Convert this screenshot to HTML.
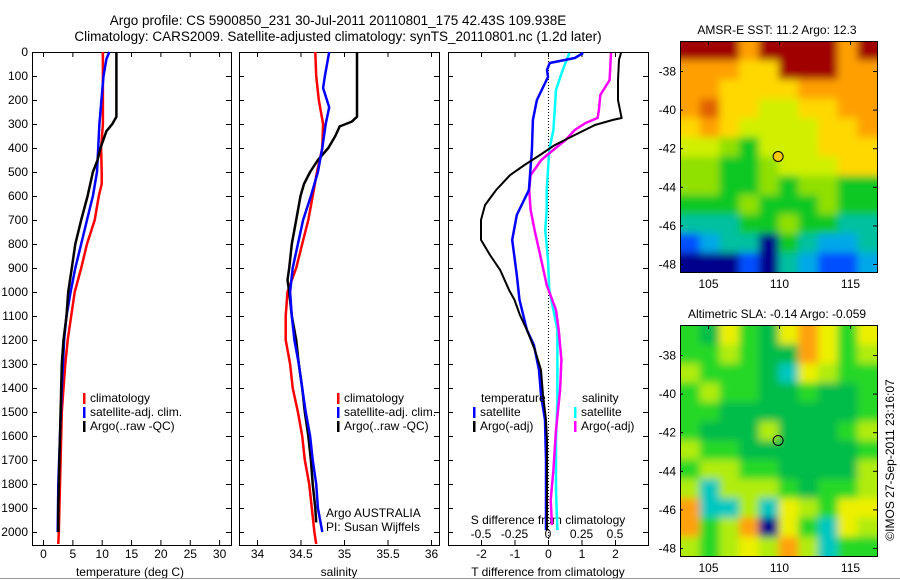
<!DOCTYPE html>
<html><head><meta charset="utf-8"><style>
html,body{margin:0;padding:0;background:#fff}
svg{display:block;font-family:"Liberation Sans",sans-serif}
</style></head><body>
<svg id="fig" width="900" height="580" viewBox="0 0 900 580" xmlns="http://www.w3.org/2000/svg">
<defs>
<filter id="soft" x="-5%" y="-5%" width="110%" height="110%"><feGaussianBlur stdDeviation="4"/></filter>
<clipPath id="clip1"><rect x="680" y="41" width="197" height="231"/></clipPath>
<clipPath id="clip2"><rect x="680" y="325" width="197" height="231"/></clipPath>
</defs>
<text x="338" y="25" font-size="13.5" text-anchor="middle">Argo profile: CS 5900850_231 30-Jul-2011 20110801_175 42.43S 109.938E</text>
<text x="338" y="41" font-size="13.5" text-anchor="middle">Climatology: CARS2009. Satellite-adjusted climatology: synTS_20110801.nc (1.2d later)</text>
<g id="g1"></g>
<g id="g2"></g>
<g id="g3"></g>
<g id="m1"></g>
<g id="m2"></g>
<text transform="translate(894,460) rotate(-90)" font-size="12" text-anchor="middle">©IMOS 27-Sep-2011 23:16:07</text>
<line x1="0" y1="578.5" x2="900" y2="578.5" stroke="#999"/>
</svg>
<script>
// ---- data ----
const tDepth = [0,100,300,400,500,550,600,700,800,900,1000,1100,1200,1300,1400,1500,1600,1800,2000,2050];
const tClim  = [10.2,10.2,10.2,9.9,10,10,9.5,8.8,7.5,6.5,5.4,4.8,4.2,3.8,3.5,3.2,3.1,2.9,2.7,2.6];
const tSatDepth = [0,30,100,300,400,500,600,700,800,900,1000,1100,1200,1400,1600,1800,2000];
const tSat  = [11.3,10.8,10.3,9.6,9.4,9.2,8.5,7.5,6.5,5.5,4.7,4.0,3.6,3.2,2.9,2.6,2.5];
const tArgoDepth = [0,270,300,330,400,450,500,600,700,800,900,1000,1100,1200,1300,1500,1700,1900,2000];
const tArgo = [12.5,12.5,11.8,10.8,9.8,9.3,8.5,7.6,6.5,5.5,4.9,4.3,4.0,3.5,3.2,3.0,2.8,2.6,2.6];

const sDepth = [0,100,200,300,400,500,600,700,800,900,1000,1100,1200,1300,1400,1500,1600,1700,1800,1900,2000,2050];
const sClim = [34.67,34.68,34.71,34.76,34.75,34.69,34.64,34.59,34.52,34.45,34.35,34.33,34.33,34.38,34.41,34.47,34.52,34.55,34.6,34.63,34.66,34.68];
const sSatDepth = [0,100,150,230,300,400,500,600,700,800,900,1000,1100,1200,1300,1400,1500,1600,1700,1800,1900,2000];
const sSat = [34.83,34.78,34.76,34.83,34.79,34.75,34.70,34.62,34.53,34.47,34.41,34.38,34.4,34.43,34.48,34.52,34.56,34.61,34.64,34.68,34.70,34.75];
const sArgoDepth = [0,270,290,310,350,400,450,500,550,600,700,800,900,950,1000,1100,1200,1300,1400,1500,1600,1700,1800,1900,1960];
const sArgo = [35.15,35.15,35.09,34.95,34.9,34.82,34.7,34.61,34.54,34.5,34.45,34.4,34.37,34.35,34.37,34.4,34.45,34.48,34.52,34.55,34.59,34.62,34.64,34.67,34.68];

const dTSatDepth = [4,25,46,75,104,200,283,408,575,679,783,929,1033,1158,1221,1325,1429,1533,1700,1992];
const dTSat = [1.05,0.8,0.05,-0.03,0,-0.33,-0.45,-0.48,-0.57,-0.93,-1.07,-0.93,-0.85,-0.63,-0.42,-0.27,-0.21,-0.09,-0.06,-0.06];
const dTArgoDepth = [4,33,117,200,263,275,283,304,346,388,429,471,513,575,638,700,783,846,908,992,1033,1096,1158,1242,1325,1429,1533,1617,1992];
const dTArgo = [2.18,2.12,2.09,2.09,2.18,2.2,1.94,1.4,0.8,0.2,-0.24,-0.7,-1.13,-1.55,-1.88,-2.0,-2.0,-1.73,-1.43,-1.16,-1.0,-0.84,-0.63,-0.39,-0.21,-0.15,-0.06,-0.03,-0.03];
const dSSatDepth = [4,75,158,242,325,408,492,575,658,742,867,992,1075,1158,1283,1450,1617,1825,1992];
const dSSat = [0.16,0.11,0.06,0.05,0.04,0.01,0,-0.01,-0.01,-0.02,0,0.01,0.04,0.07,0.07,0.07,0.06,0.06,0.07];
const dSArgoDepth = [4,117,179,242,275,296,325,367,408,450,513,575,658,742,867,971,1075,1158,1283,1408,1575,1742,1867,1971];
const dSArgo = [0.47,0.46,0.39,0.38,0.37,0.28,0.2,0.13,0.04,-0.05,-0.13,-0.14,-0.13,-0.1,-0.05,-0.01,0.06,0.08,0.1,0.09,0.06,0.04,0.02,0.03];

const tempTicks = [0,5,10,15,20,25,30];
const salTicks = [34,34.5,35,35.5,36];
const tdTicks = [-2,-1,0,1,2];
const sdTicks = [-0.5,-0.25,0,0.25,0.5];
const depthTicks = [0,100,200,300,400,500,600,700,800,900,1000,1100,1200,1300,1400,1500,1600,1700,1800,1900,2000];
const lonTicks = [105,110,115];
const latTicks = [-38,-40,-42,-44,-46,-48];

const sstGrid = ["RRR8RRRR8R","88877RRR88","8877778888","8977667788","7876666778","6654666777","5544566677","5544545544","4445444544","3334454433","1233043223","0001032112"];
const slaGrid = ["gGYgGYOYgY","ggygGGOYgy","ygggGcYygg","gyggGGgGGg","ggGGGGGGGg","gGGGyGGGgy","yggGGGGGGg","gyyggGGGGy","ycyyygGggy","OccycYygYY","OgyOBYgcYy","ygyYyOycgg"];

// ---- helpers ----
const NS="http://www.w3.org/2000/svg";
function mk(parent,tag,attrs){const e=document.createElementNS(NS,tag);for(const k in attrs)e.setAttribute(k,attrs[k]);parent.appendChild(e);return e;}
const PT=52, PB=545;
const yD = d => 52 + d*0.24;
const xT = v => 43 + v*5.87;
const xS = v => 257 + (v-34)*87;
const xTD = v => 548 + v*33.5;
const xSD = v => 548 + v*134;

function frame(g,x0,x1,name){
  const r=mk(g,'rect',{x:x0+0.5,y:PT+0.5,width:x1-x0,height:PB-PT,fill:'none',stroke:'#000'});
  
  
  depthTicks.forEach(d=>{
    const y=yD(d)+0.5;
    mk(g,'line',{x1:x0,y1:y,x2:x0+5,y2:y,stroke:'#000'});
    mk(g,'line',{x1:x1-5,y1:y,x2:x1,y2:y,stroke:'#000'});
  });
}
function xticks(g,vals,fx,labels,ly){
  vals.forEach((v,i)=>{
    const x=fx(v)+0.5;
    mk(g,'line',{x1:x,y1:PT,x2:x,y2:PT+5,stroke:'#000'});
    mk(g,'line',{x1:x,y1:PB-5,x2:x,y2:PB,stroke:'#000'});
    if(labels){const t=mk(g,'text',{x:x,y:ly,'font-size':12,'text-anchor':'middle'});t.textContent=labels[i];
      
      }
  });
}
function line(g,ds,vs,fx,color,w,name){
  const pts=ds.map((d,i)=>fx(vs[i]).toFixed(1)+','+yD(d).toFixed(1)).join(' ');
  const p=mk(g,'polyline',{points:pts,fill:'none',stroke:color,'stroke-width':w,'stroke-linejoin':'round'});
  
  
}
function legend(g,x,y,color,label){
  mk(g,'rect',{x:x,y:y-9,width:2.5,height:11,fill:color});
  const t=mk(g,'text',{x:x+7,y:y,'font-size':12});t.textContent=label;
  
  
}
function txt(g,x,y,s,anchor,name,size){
  const t=mk(g,'text',{x:x,y:y,'font-size':size||12,'text-anchor':anchor||'start'});t.textContent=s;
  
  
  return t;
}

// ---- panel 1 ----
const g1=document.getElementById('g1');
frame(g1,32,231,'temperature-panel');
depthTicks.forEach(d=>{const t=txt(g1,28,yD(d)+4,String(d),'end','y-tick-label');});
xticks(g1,tempTicks,xT,tempTicks.map(String),558);
txt(g1,130,576,'temperature (deg C)','middle','x-axis-title');
line(g1,tDepth,tClim,xT,'#f00',2.5,'temp-climatology-line');
line(g1,tSatDepth,tSat,xT,'#00f',2.5,'temp-satellite-line');
line(g1,tArgoDepth,tArgo,xT,'#000',2.5,'temp-argo-line');
legend(g1,83,402,'#f00','climatology');
legend(g1,83,416,'#00f','satellite-adj. clim.');
legend(g1,83,430,'#000','Argo(..raw -QC)');

// ---- panel 2 ----
const g2=document.getElementById('g2');
frame(g2,239,439,'salinity-panel');
xticks(g2,salTicks,xS,salTicks.map(String),558);
txt(g2,339,576,'salinity','middle','x-axis-title');
line(g2,sDepth,sClim,xS,'#f00',2.5,'sal-climatology-line');
line(g2,sArgoDepth,sArgo,xS,'#000',2.5,'sal-argo-line');
line(g2,sSatDepth,sSat,xS,'#00f',2.5,'sal-satellite-line');
legend(g2,337,402,'#f00','climatology');
legend(g2,337,416,'#00f','satellite-adj. clim.');
legend(g2,337,430,'#000','Argo(..raw -QC)');
txt(g2,326,517,'Argo AUSTRALIA','start','argo-credit');
txt(g2,326,531,'PI: Susan Wijffels','start','pi-credit');

// ---- panel 3 ----
const g3=document.getElementById('g3');
frame(g3,448,648,'difference-panel');
mk(g3,'line',{x1:548.5,y1:PT,x2:548.5,y2:PB,stroke:'#000','stroke-dasharray':'1,2'});
xticks(g3,tdTicks,xTD,tdTicks.map(String),558);
txt(g3,548,576,'T difference from climatology','middle','x-axis-title');
txt(g3,548,524,'S difference from climatology','middle','s-axis-title');
sdTicks.forEach(v=>txt(g3,xSD(v),538,String(v),'middle','s-tick-label'));
line(g3,dSSatDepth,dSSat,xSD,'#0ff',2.5,'sal-satellite-diff-line');
line(g3,dSArgoDepth,dSArgo,xSD,'#f0f',2.5,'sal-argo-diff-line');
line(g3,dTSatDepth,dTSat,xTD,'#00f',2.5,'temp-satellite-diff-line');
line(g3,dTArgoDepth,dTArgo,xTD,'#000',2,'temp-argo-diff-line');
txt(g3,481,402,'temperature','start','legend-title');
legend(g3,473,416,'#00f','satellite');
legend(g3,473,430,'#000','Argo(-adj)');
txt(g3,582,402,'salinity','start','legend-title');
legend(g3,574,416,'#0ff','satellite');
legend(g3,574,430,'#f0f','Argo(-adj)');

// ---- maps ----
const sstCol={R:'#a00000','9':'#e06000','8':'#ffa000','7':'#ffd800','6':'#d0f000','5':'#90e000','4':'#10c820','3':'#00c0a0','2':'#00a8e8','1':'#0050ff','0':'#00008c'};
const slaCol={g:'#28d828',G:'#00bc48',y:'#b0ec10',Y:'#ecf000',O:'#ffa010',c:'#00c8c0',b:'#0060ff',B:'#00008c'};
const lonX = v => 708 + (v-105)*14.2;
function drawMap(id,top,grid,cols,title,circleFill,name,clip){
  const g=document.getElementById(id);
  const x0=680,x1=877,y0=top,y1=top+231;
  const nr=grid.length,nc=grid[0].length,cw=(x1-x0)/nc,ch=(y1-y0)/nr;
  const cg=mk(g,'g',{'clip-path':'url(#'+clip+')'});
  const bg=mk(cg,'g',{filter:'url(#soft)'});
  grid.forEach((row,r)=>{for(let c=0;c<nc;c++){
    let x=x0+c*cw, y=y0+r*ch, w=cw+0.6, h=ch+0.6;
    if(c===0){x-=12;w+=12;} if(c===nc-1){w+=12;}
    if(r===0){y-=12;h+=12;} if(r===nr-1){h+=12;}
    mk(bg,'rect',{x:x.toFixed(2),y:y.toFixed(2),width:w.toFixed(2),height:h.toFixed(2),fill:cols[row[c]]});
  }});
  const fr=mk(g,'rect',{x:x0+0.5,y:y0+0.5,width:x1-x0,height:y1-y0,fill:'none',stroke:'#000'});
  
  
  const latY = v => top + 30 + (-38 - v)*19.3;
  latTicks.forEach(v=>{const y=latY(v)+0.5;
    mk(g,'line',{x1:x1-4,y1:y,x2:x1,y2:y,stroke:'#000'});
    mk(g,'line',{x1:x0,y1:y,x2:x0+3,y2:y,stroke:'#000'});
    txt(g,676,y+4,String(v),'end','lat-tick-label');});
  lonTicks.forEach(v=>{const x=lonX(v)+0.5;
    mk(g,'line',{x1:x,y1:y0,x2:x,y2:y0+4,stroke:'#000'});
    txt(g,x,y1+16,String(v),'middle','lon-tick-label');});
  txt(g,777,y0-7,title,'middle','map-title');
  const cy=latY(-42.43), cx=lonX(109.938);
  const c=mk(g,'circle',{cx:cx,cy:cy,r:5,fill:circleFill,stroke:'#000'});
  
  
}
drawMap('m1',41,sstGrid,sstCol,'AMSR-E SST: 11.2 Argo: 12.3','#f8c800','sst-map','clip1');
drawMap('m2',325,slaGrid,slaCol,'Altimetric SLA: -0.14 Argo: -0.059','none','sla-map','clip2');
</script>
</body></html>
